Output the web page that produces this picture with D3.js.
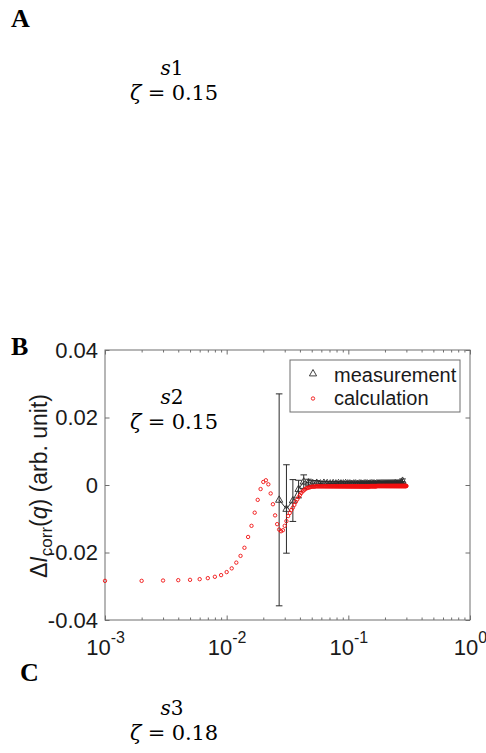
<!DOCTYPE html>
<html>
<head>
<meta charset="utf-8">
<script src="https://cdn.jsdelivr.net/npm/d3@7"></script>
<style>
  html, body { margin: 0; padding: 0; background: #fff; }
  svg { display: block; }
</style>
</head>
<body>
<div id="chart"></div>
<script>
// --- Data ---
// calculation: q grid and ΔI_corr values
const calcQ = [
  0.001, 0.002, 0.003, 0.004, 0.005, 0.006, 0.007, 0.008, 0.009, 0.010,
  0.011, 0.012, 0.013, 0.014, 0.015, 0.016, 0.017, 0.018, 0.019, 0.020,
  0.021, 0.022, 0.023, 0.024, 0.025, 0.026, 0.027, 0.028, 0.029, 0.030,
  0.031, 0.032, 0.033, 0.034, 0.035, 0.036, 0.037, 0.038, 0.039, 0.040,
  0.041, 0.042, 0.043, 0.044, 0.045, 0.046, 0.047, 0.048, 0.049, 0.050,
  0.051, 0.052, 0.053, 0.054, 0.055, 0.056, 0.057, 0.058, 0.059, 0.060,
  0.061, 0.062, 0.063, 0.064, 0.065, 0.066, 0.067, 0.068, 0.069, 0.070,
  0.071, 0.072, 0.073, 0.074, 0.075, 0.076, 0.077, 0.078, 0.079, 0.080,
  0.081, 0.082, 0.083, 0.084, 0.085, 0.086, 0.087, 0.088, 0.089, 0.090,
  0.091, 0.092, 0.093, 0.094, 0.095, 0.096, 0.097, 0.098, 0.099, 0.100,
  0.101, 0.102, 0.103, 0.104, 0.105, 0.106, 0.107, 0.108, 0.109, 0.110,
  0.111, 0.112, 0.113, 0.114, 0.115, 0.116, 0.117, 0.118, 0.119, 0.120,
  0.121, 0.122, 0.123, 0.124, 0.125, 0.126, 0.127, 0.128, 0.129, 0.130,
  0.131, 0.132, 0.133, 0.134, 0.135, 0.136, 0.137, 0.138, 0.139, 0.140,
  0.141, 0.142, 0.143, 0.144, 0.145, 0.146, 0.147, 0.148, 0.149, 0.150,
  0.151, 0.152, 0.153, 0.154, 0.155, 0.156, 0.157, 0.158, 0.159, 0.160,
  0.161, 0.162, 0.163, 0.164, 0.165, 0.166, 0.167, 0.168, 0.169, 0.170,
  0.171, 0.172, 0.173, 0.174, 0.175, 0.176, 0.177, 0.178, 0.179, 0.180,
  0.181, 0.182, 0.183, 0.184, 0.185, 0.186, 0.187, 0.188, 0.189, 0.190,
  0.191, 0.192, 0.193, 0.194, 0.195, 0.196, 0.197, 0.198, 0.199, 0.200,
  0.201, 0.202, 0.203, 0.204, 0.205, 0.206, 0.207, 0.208, 0.209, 0.210,
  0.211, 0.212, 0.213, 0.214, 0.215, 0.216, 0.217, 0.218, 0.219, 0.220,
  0.221, 0.222, 0.223, 0.224, 0.225, 0.226, 0.227, 0.228, 0.229, 0.230,
  0.231, 0.232, 0.233, 0.234, 0.235, 0.236, 0.237, 0.238, 0.239, 0.240,
  0.241, 0.242, 0.243, 0.244, 0.245, 0.246, 0.247, 0.248, 0.249, 0.250,
  0.251, 0.252, 0.253, 0.254, 0.255, 0.256, 0.257, 0.258, 0.259, 0.260,
  0.261, 0.262, 0.263, 0.264, 0.265, 0.266, 0.267, 0.268, 0.269, 0.270,
  0.271, 0.272, 0.273, 0.274, 0.275, 0.276, 0.277, 0.278, 0.279, 0.280,
  0.281, 0.282, 0.283, 0.284, 0.285, 0.286, 0.287, 0.288, 0.289, 0.290,
  0.291, 0.292, 0.293, 0.294, 0.295, 0.296, 0.297, 0.298, 0.299, 0.300
];
const calcVal = [
  -0.0284, -0.0284, -0.0283, -0.0282, -0.0281, -0.0279, -0.0276, -0.0272, -0.0267, -0.0258,
  -0.0247, -0.0230, -0.0210, -0.0186, -0.0154, -0.0121, -0.0082, -0.0044, -0.0012, 0.0009,
  0.0014, 0.0002, -0.0025, -0.0057, -0.0090, -0.0116, -0.0132, -0.0137, -0.0134, -0.0121,
  -0.0107, -0.0092, -0.0083, -0.0074, -0.0067, -0.0059, -0.0050, -0.0043, -0.0036, -0.0030,
  -0.0024, -0.0019, -0.0016, -0.0013, -0.0010, -0.0009, -0.0008, -0.0007, -0.0006, -0.0005,
  -0.0005, -0.0005, -0.0005, -0.0004, -0.0004, -0.0004, -0.0004, -0.0004, -0.0004, -0.0004,
  -0.0004, -0.0004, -0.0004, -0.0004, -0.0004, -0.0004, -0.0004, -0.0004, -0.0004, -0.0004,
  -0.0004, -0.0004, -0.0004, -0.0004, -0.0004, -0.0004, -0.0004, -0.0004, -0.0004, -0.0004,
  -0.0004, -0.0004, -0.0004, -0.0004, -0.0004, -0.0004, -0.0004, -0.0004, -0.0004, -0.0004,
  -0.0004, -0.0004, -0.0004, -0.0004, -0.0004, -0.0004, -0.0004, -0.0004, -0.0004, -0.0004,
  -0.0004, -0.0004, -0.0004, -0.0004, -0.0004, -0.0004, -0.0004, -0.0004, -0.0004, -0.0004,
  -0.0004, -0.0004, -0.0004, -0.0004, -0.0004, -0.0004, -0.0004, -0.0004, -0.0004, -0.0004,
  -0.0004, -0.0004, -0.0004, -0.0004, -0.0004, -0.0004, -0.0004, -0.0004, -0.0004, -0.0004,
  -0.0004, -0.0004, -0.0004, -0.0004, -0.0004, -0.0004, -0.0004, -0.0004, -0.0004, -0.0004,
  -0.0004, -0.0004, -0.0004, -0.0004, -0.0004, -0.0004, -0.0004, -0.0004, -0.0004, -0.0004,
  -0.0003, -0.0004, -0.0003, -0.0004, -0.0003, -0.0004, -0.0003, -0.0004, -0.0003, -0.0004,
  -0.0003, -0.0004, -0.0003, -0.0004, -0.0003, -0.0004, -0.0003, -0.0004, -0.0003, -0.0004,
  -0.0003, -0.0003, -0.0003, -0.0003, -0.0003, -0.0003, -0.0003, -0.0003, -0.0003, -0.0003,
  -0.0003, -0.0003, -0.0003, -0.0003, -0.0003, -0.0003, -0.0003, -0.0003, -0.0003, -0.0003,
  -0.0003, -0.0003, -0.0003, -0.0003, -0.0003, -0.0003, -0.0003, -0.0003, -0.0003, -0.0003,
  -0.0003, -0.0003, -0.0003, -0.0003, -0.0003, -0.0003, -0.0003, -0.0003, -0.0003, -0.0003,
  -0.0003, -0.0003, -0.0003, -0.0003, -0.0003, -0.0003, -0.0003, -0.0003, -0.0003, -0.0003,
  -0.0003, -0.0003, -0.0003, -0.0003, -0.0003, -0.0003, -0.0003, -0.0003, -0.0003, -0.0003,
  -0.0003, -0.0003, -0.0003, -0.0003, -0.0003, -0.0003, -0.0003, -0.0003, -0.0003, -0.0003,
  -0.0003, -0.0003, -0.0003, -0.0003, -0.0003, -0.0003, -0.0003, -0.0003, -0.0003, -0.0003,
  -0.0003, -0.0003, -0.0003, -0.0003, -0.0003, -0.0003, -0.0003, -0.0003, -0.0003, -0.0003,
  -0.0003, -0.0003, -0.0003, -0.0003, -0.0003, -0.0003, -0.0003, -0.0003, -0.0003, -0.0003,
  -0.0003, -0.0003, -0.0003, -0.0003, -0.0003, -0.0003, -0.0003, -0.0003, -0.0003, -0.0003,
  -0.0003, -0.0003, -0.0003, -0.0003, -0.0003, -0.0003, -0.0003, -0.0003, -0.0003, -0.0003,
  -0.0003, -0.0003, -0.0003, -0.0003, -0.0003, -0.0003, -0.0003, -0.0003, -0.0003, -0.0003
];

// measurement: q, ΔI_corr and error bar half-length
const measQ = [
  0.027, 0.031, 0.035, 0.039, 0.043, 0.047, 0.051, 0.055, 0.059, 0.063,
  0.067, 0.071, 0.075, 0.079, 0.083, 0.087, 0.091, 0.095, 0.099, 0.103,
  0.107, 0.111, 0.115, 0.119, 0.123, 0.127, 0.131, 0.135, 0.139, 0.143,
  0.147, 0.151, 0.155, 0.159, 0.163, 0.167, 0.171, 0.175, 0.179, 0.183,
  0.187, 0.191, 0.195, 0.199, 0.203, 0.207, 0.211, 0.215, 0.219, 0.223,
  0.227, 0.231, 0.235, 0.239, 0.243, 0.247, 0.251, 0.255, 0.259, 0.263,
  0.267, 0.271, 0.275, 0.279
];
const measVal = [
  -0.0044, -0.0071, -0.0046, -0.0012, 0.0010, 0.0007, 0.0005, 0.0006, 0.0004, 0.0006,
  0.0005, 0.0004, 0.0005, 0.0004, 0.0005, 0.0004, 0.0004, 0.0005, 0.0004, 0.0004,
  0.0003, 0.0004, 0.0004, 0.0003, 0.0004, 0.0004, 0.0003, 0.0004, 0.0004, 0.0004,
  0.0003, 0.0004, 0.0004, 0.0004, 0.0004, 0.0003, 0.0004, 0.0004, 0.0004, 0.0004,
  0.0004, 0.0004, 0.0004, 0.0004, 0.0004, 0.0004, 0.0004, 0.0004, 0.0004, 0.0004,
  0.0004, 0.0004, 0.0004, 0.0004, 0.0005, 0.0004, 0.0004, 0.0004, 0.0004, 0.0004,
  0.0004, 0.0005, 0.0005, 0.0012
];
const measErr = [
  0.0314, 0.0131, 0.0062, 0.0026, 0.0020, 0.0010, 0.0008, 0.0007, 0.0006, 0.0005,
  0.0005, 0.0005, 0.0005, 0.0005, 0.0005, 0.0005, 0.0005, 0.0005, 0.0005, 0.0005,
  0.0005, 0.0005, 0.0005, 0.0005, 0.0005, 0.0005, 0.0005, 0.0005, 0.0005, 0.0005,
  0.0005, 0.0005, 0.0005, 0.0005, 0.0005, 0.0005, 0.0005, 0.0005, 0.0005, 0.0005,
  0.0005, 0.0005, 0.0005, 0.0005, 0.0005, 0.0005, 0.0005, 0.0005, 0.0005, 0.0005,
  0.0005, 0.0005, 0.0005, 0.0005, 0.0005, 0.0005, 0.0005, 0.0005, 0.0005, 0.0005,
  0.0005, 0.0005, 0.0005, 0.0006
];

const yTicks = [-0.04, -0.02, 0, 0.02, 0.04];
const yTickLabels = ["-0.04", "-0.02", "0", "0.02", "0.04"];
const xMajor = [1e-3, 1e-2, 1e-1, 1];
const xExponents = ["-3", "-2", "-1", "0"];
const legendLabels = ["measurement", "calculation"];
const panels = [
  { letter: "A", sample: "1", zeta: "0.15" },
  { letter: "B", sample: "2", zeta: "0.15" },
  { letter: "C", sample: "3", zeta: "0.18" }
];

// --- Layout ---
const W = 486, H = 753;
const plot = { left: 105, right: 470, top: 350, bottom: 620 };

const svg = d3.select("#chart").append("svg")
  .attr("width", W).attr("height", H)
  .style("font-family", "'Liberation Sans', Arial, sans-serif");

svg.append("rect").attr("width", W).attr("height", H).attr("fill", "#fff");

// --- Panel letters and sample captions ---
const letterPos = [[11, 27], [11, 355], [20, 681]];
const captionY = [75, 404, 715];

panels.forEach((p, i) => {
  svg.append("text")
    .attr("x", letterPos[i][0]).attr("y", letterPos[i][1])
    .style("font-family", "'Liberation Serif', 'Times New Roman', serif")
    .style("font-weight", "bold")
    .style("font-size", "26px")
    .text(p.letter);

  const cap = svg.append("text")
    .attr("x", 172).attr("y", captionY[i])
    .attr("text-anchor", "middle")
    .style("font-family", "'DejaVu Serif', serif")
    .style("font-size", "20px");
  cap.append("tspan").style("font-style", "italic").text("s");
  cap.append("tspan").text(p.sample);

  const z = svg.append("text")
    .attr("x", 174).attr("y", captionY[i] + 25)
    .attr("text-anchor", "middle")
    .attr("textLength", 88).attr("lengthAdjust", "spacing")
    .style("font-family", "'DejaVu Serif', serif")
    .style("font-size", "21px");
  z.append("tspan").style("font-style", "italic").text("ζ");
  z.append("tspan").text(" = " + p.zeta);
});

// --- Scales ---
const x = d3.scaleLog().domain([1e-3, 1]).range([plot.left, plot.right]);
const y = d3.scaleLinear().domain([-0.04, 0.04]).range([plot.bottom, plot.top]);

const xMinor = [];
xMajor.slice(0, -1).forEach(d => { for (let k = 2; k <= 9; k++) xMinor.push(d * k); });

const axisColor = "#6e6e6e";
const textColor = "#1a1a1a";

function styleAxis(g) {
  g.select(".domain").remove();
  g.selectAll(".tick line").attr("stroke", axisColor);
}

// bottom minor + major
svg.append("g").attr("transform", `translate(0,${plot.bottom})`)
  .call(d3.axisBottom(x).tickValues(xMinor).tickSize(-2.5).tickFormat(""))
  .call(styleAxis);
const xb = svg.append("g").attr("transform", `translate(0,${plot.bottom})`)
  .call(d3.axisBottom(x).tickValues(xMajor).tickSize(-4.5).tickFormat(""))
  .call(styleAxis);

xb.selectAll(".tick text").each(function(d, i) {
  const t = d3.select(this)
    .attr("y", 35).attr("dy", null)
    .attr("fill", textColor)
    .style("font-size", "22px")
    .text(null);
  t.append("tspan").text("10");
  t.append("tspan").attr("dy", -12).style("font-size", "16px").text(xExponents[i]);
});

// top minor + major
svg.append("g").attr("transform", `translate(0,${plot.top})`)
  .call(d3.axisTop(x).tickValues(xMinor).tickSize(-2.5).tickFormat(""))
  .call(styleAxis);
svg.append("g").attr("transform", `translate(0,${plot.top})`)
  .call(d3.axisTop(x).tickValues(xMajor).tickSize(-4.5).tickFormat(""))
  .call(styleAxis);

// left + right
svg.append("g").attr("transform", `translate(${plot.left},0)`)
  .call(d3.axisLeft(y).tickValues(yTicks).tickSize(-4.5).tickPadding(7)
    .tickFormat((d, i) => yTickLabels[i]))
  .call(styleAxis)
  .call(g => g.selectAll(".tick text").attr("fill", textColor).style("font-size", "22px"));
svg.append("g").attr("transform", `translate(${plot.right},0)`)
  .call(d3.axisRight(y).tickValues(yTicks).tickSize(-4.5).tickFormat(""))
  .call(styleAxis);

// box
svg.append("rect")
  .attr("x", plot.left).attr("y", plot.top)
  .attr("width", plot.right - plot.left).attr("height", plot.bottom - plot.top)
  .attr("fill", "none").attr("stroke", axisColor).attr("stroke-width", 1);

// y label
const yl = svg.append("text")
  .attr("transform", `translate(47,${(plot.top + plot.bottom) / 2 + 1}) rotate(-90)`)
  .attr("text-anchor", "middle")
  .attr("fill", textColor)
  .style("font-size", "23px");
yl.append("tspan").text("Δ");
yl.append("tspan").style("font-style", "italic").text("I");
yl.append("tspan").attr("dy", 5).style("font-size", "17px").text("corr");
yl.append("tspan").attr("dy", -5).text("(");
yl.append("tspan").style("font-style", "italic").text("q");
yl.append("tspan").text(") (arb. unit)");

// --- Measurement ---
const meas = measQ.map((q, i) => ({ q, v: measVal[i], e: measErr[i] }));
const calc = calcQ.map((q, i) => ({ q, v: calcVal[i] }));

const markColor = "#2b2b2b";
const eb = svg.append("g").attr("stroke", markColor).attr("stroke-width", 1);
meas.forEach(d => {
  const cx = x(d.q);
  eb.append("line").attr("x1", cx).attr("x2", cx).attr("y1", y(d.v + d.e)).attr("y2", y(d.v - d.e));
  [d.v + d.e, d.v - d.e].forEach(v => {
    eb.append("line").attr("x1", cx - 3.3).attr("x2", cx + 3.3).attr("y1", y(v)).attr("y2", y(v));
  });
});

svg.append("path")
  .datum(meas)
  .attr("fill", "none").attr("stroke", markColor).attr("stroke-width", 1)
  .attr("d", d3.line().x(d => x(d.q)).y(d => y(d.v)));

const tri = "M0,-4L3.6,2.4L-3.6,2.4Z";
svg.append("g").selectAll("path")
  .data(meas)
  .join("path")
  .attr("d", tri)
  .attr("transform", d => `translate(${x(d.q)},${y(d.v)})`)
  .attr("fill", "none").attr("stroke", markColor).attr("stroke-width", 0.9);

// --- Calculation ---
const calcColor = "#f01010";
svg.append("g").selectAll("circle")
  .data(calc)
  .join("circle")
  .attr("cx", d => x(d.q))
  .attr("cy", d => y(d.v))
  .attr("r", 1.7)
  .attr("fill", "none")
  .attr("stroke", calcColor)
  .attr("stroke-width", 0.9);

// --- Legend ---
const lg = svg.append("g").attr("transform", "translate(290,360)");
lg.append("rect").attr("width", 170).attr("height", 52)
  .attr("fill", "#fff").attr("stroke", axisColor).attr("stroke-width", 1);
lg.append("path").attr("d", tri).attr("transform", "translate(23,13.5)")
  .attr("fill", "none").attr("stroke", markColor).attr("stroke-width", 0.9);
lg.append("circle").attr("cx", 23).attr("cy", 38.5).attr("r", 1.7)
  .attr("fill", "none").attr("stroke", calcColor).attr("stroke-width", 0.9);
legendLabels.forEach((t, i) => {
  lg.append("text").attr("x", 44).attr("y", 21.5 + i * 23.5)
    .attr("fill", textColor)
    .style("font-size", "20px")
    .text(t);
});
</script>
</body>
</html>
